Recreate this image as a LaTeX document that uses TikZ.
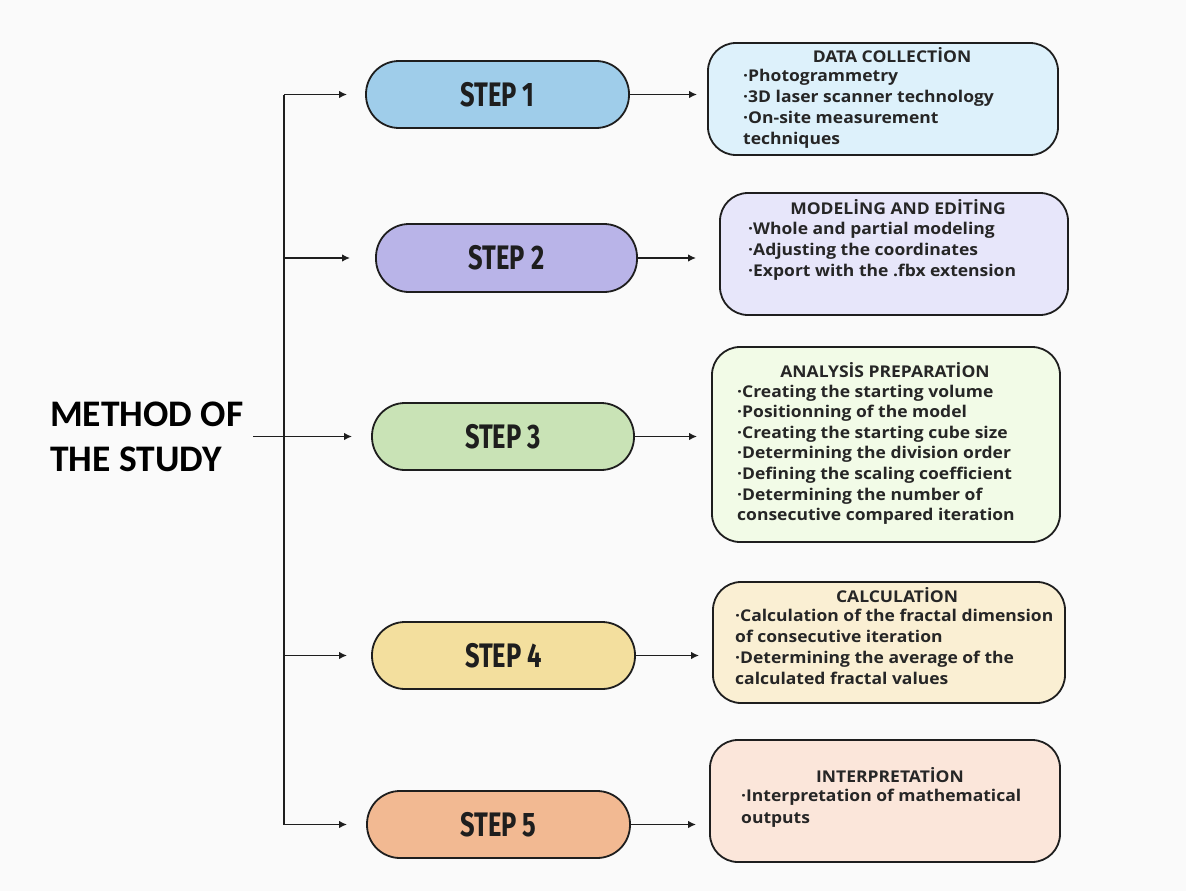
\documentclass[tikz,border=0pt]{standalone}
\usepackage{fontspec}
\setmainfont[FakeStretch=1.08]{Open Sans}
\newfontfamily\methodfont{Carlito}
\newfontfamily\stepfont[FakeStretch=0.75]{Fira Sans}
\usetikzlibrary{arrows.meta,calc}
\definecolor{bgc}{HTML}{FAFAFA}
\definecolor{linec}{HTML}{1E1E1E}
\definecolor{txtc}{HTML}{262626}
\definecolor{pA}{HTML}{9FCDEA}\definecolor{bA}{HTML}{DDF1FB}
\definecolor{pB}{HTML}{B9B4E8}\definecolor{bB}{HTML}{E7E6FA}
\definecolor{pC}{HTML}{C9E3B6}\definecolor{bC}{HTML}{F2FBE7}
\definecolor{pD}{HTML}{F3DF9E}\definecolor{bD}{HTML}{FAEFD3}
\definecolor{pE}{HTML}{F2B992}\definecolor{bE}{HTML}{FBE6DA}
\tikzset{
  pill/.style={draw=linec, line width=1.8pt, rounded corners=33pt, minimum width=263pt, minimum height=67pt, inner sep=0pt,
    font=\stepfont\bfseries\fontsize{34}{34}\selectfont, text=linec},
  infobox/.style={draw=linec, line width=1.8pt, rounded corners=28pt, inner sep=0pt},
  boxtitle/.style={inner sep=0pt, font=\bfseries\fontsize{16.2}{18}\selectfont, text=txtc},
  boxbody/.style={inner sep=0pt, anchor=north west, align=left, text=txtc, font=\bfseries\fontsize{16.2}{21}\selectfont},
  arr/.style={line width=1.9pt, draw=linec, -{Latex[length=8pt,width=7.5pt]}},
  trunk/.style={line width=1.9pt, draw=linec}
}
\begin{document}
\begin{tikzpicture}[x=1pt,y=-1pt]
\fill[bgc] (0,0) rectangle (1186,891);
\useasboundingbox (0,0) rectangle (1186,891);

% title
\node[inner sep=0pt, align=left, font=\methodfont\bfseries\fontsize{37.5}{45}\selectfont, text=black, anchor=west] (m) at (50,436.5) {METHOD OF\\THE STUDY};

% pills
\node[pill, fill=pA] (s1) at (497.5,94.5) {STEP 1};
\node[pill, fill=pB, minimum width=261pt, minimum height=68pt] (s2) at (506.5,258) {STEP 2};
\node[pill, fill=pC, minimum width=262pt] (s3) at (503,436.5) {STEP 3};
\node[pill, fill=pD] (s4) at (503.5,655.5) {STEP 4};
\node[pill, fill=pE] (s5) at (498.5,824.5) {STEP 5};

% boxes
\node[infobox, fill=bA, minimum width=350pt, minimum height=112pt] (b1) at (883,99) {};
\node[infobox, fill=bB, minimum width=348pt, minimum height=122pt] (b2) at (894,254) {};
\node[infobox, fill=bC, minimum width=348pt, minimum height=195pt] (b3) at (886,444.5) {};
\node[infobox, fill=bD, minimum width=352pt, minimum height=121pt] (b4) at (889,642.5) {};
\node[infobox, fill=bE, minimum width=350pt, minimum height=122pt] (b5) at (885,801) {};

% box texts
\node[boxtitle] (t1) at (892,55) {DATA COLLECTİON};
\node[boxbody] (d1) at (743,68.5) {·Photogrammetry\\·3D laser scanner technology\\·On-site measurement\\techniques};
\node[boxtitle] (t2) at (898,207) {MODELİNG AND EDİTİNG};
\node[boxbody] (d2) at (748,221.5) {·Whole and partial modeling\\·Adjusting the coordinates\\·Export with the .fbx extension};
\node[boxtitle] (t3) at (885,370) {ANALYSİS PREPARATİON};
\node[boxbody, font=\bfseries\fontsize{16.2}{20.6}\selectfont] (d3) at (737,384.5) {·Creating the starting volume\\·Positionning of the model\\·Creating the starting cube size\\·Determining the division order\\·Defining the scaling coefficient\\·Determining the number of\\consecutive compared iteration};
\node[boxtitle] (t4) at (897,595) {CALCULATİON};
\node[boxbody] (d4) at (735,608.5) {·Calculation of the fractal dimension\\of consecutive iteration\\·Determining the average of the\\calculated fractal values};
\node[boxtitle] (t5) at (890,775) {INTERPRETATİON};
\node[boxbody, font=\bfseries\fontsize{16.2}{22}\selectfont] (d5) at (741,788.5) {·Interpretation of mathematical\\outputs};

% trunk
\coordinate (j1) at (284,94.5);
\coordinate (j2) at (284,258);
\coordinate (j4) at (284,655.5);
\coordinate (j5) at (284,824.5);
\draw[trunk] (j1) -- (j5);
\draw[arr, shorten >=18pt] (j1) -- (s1.west |- j1);
\draw[arr, shorten >=25pt] (j2) -- (s2.west |- j2);
\draw[arr, shorten >=19pt] (m.east -| 253,0) -- (s3.west);
\draw[arr, shorten >=24pt] (j4) -- (s4.west |- j4);
\draw[arr, shorten >=19pt] (j5) -- (s5.west |- j5);

% step to box arrows
\draw[arr, shorten >=10pt] (s1.east) -- (s1.east -| b1.west);
\draw[arr, shorten >=23pt] (s2.east) -- (s2.east -| b2.west);
\draw[arr, shorten >=14pt] (s3.east) -- (s3.east -| b3.west);
\draw[arr, shorten >=13pt] (s4.east) -- (s4.east -| b4.west);
\draw[arr, shorten >=13pt] (s5.east) -- (s5.east -| b5.west);
\end{tikzpicture}
\end{document}
